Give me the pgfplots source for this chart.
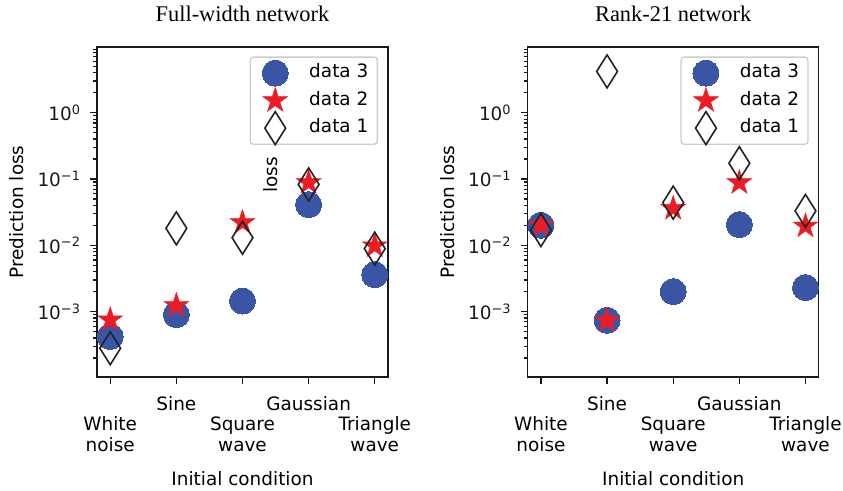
\documentclass[border=0pt]{standalone}
\usepackage{pgfplots}
\pgfplotsset{compat=1.18}
\usepackage{fontspec}
\setmainfont{DejaVu Sans}
\newfontfamily\titlefont{Liberation Serif}
\definecolor{cblue}{HTML}{3A55A4}
\definecolor{cred}{HTML}{ED1C24}
\definecolor{cdark}{HTML}{222222}
\pgfdeclareplotmark{fstar}{%
  \pgfpathmoveto{\pgfpointpolar{90}{\pgfplotmarksize}}%
  \pgfpathlineto{\pgfpointpolar{126}{0.382\pgfplotmarksize}}%
  \pgfpathlineto{\pgfpointpolar{162}{\pgfplotmarksize}}%
  \pgfpathlineto{\pgfpointpolar{198}{0.382\pgfplotmarksize}}%
  \pgfpathlineto{\pgfpointpolar{234}{\pgfplotmarksize}}%
  \pgfpathlineto{\pgfpointpolar{270}{0.382\pgfplotmarksize}}%
  \pgfpathlineto{\pgfpointpolar{306}{\pgfplotmarksize}}%
  \pgfpathlineto{\pgfpointpolar{342}{0.382\pgfplotmarksize}}%
  \pgfpathlineto{\pgfpointpolar{18}{\pgfplotmarksize}}%
  \pgfpathlineto{\pgfpointpolar{54}{0.382\pgfplotmarksize}}%
  \pgfpathclose
  \pgfusepathqfillstroke}
\pgfdeclareplotmark{tdiamond}{%
  \pgfpathmoveto{\pgfpoint{0pt}{\pgfplotmarksize}}%
  \pgfpathlineto{\pgfpoint{0.63\pgfplotmarksize}{0pt}}%
  \pgfpathlineto{\pgfpoint{0pt}{-\pgfplotmarksize}}%
  \pgfpathlineto{\pgfpoint{-0.63\pgfplotmarksize}{0pt}}%
  \pgfpathclose
  \pgfusepathqstroke}
\newcommand{\lbl}{\fontsize{18.5}{21}\selectfont}
\begin{document}
\begin{tikzpicture}
\useasboundingbox (0bp,0bp) rectangle (843bp,491bp);
\begin{axis}[at={(97bp,114bp)}, title={Full-width network},
    ymode=log, scale only axis, width=291bp, height=330bp, anchor=south west,
    xmin=-0.2, xmax=4.2, ymin=1.03e-4, ymax=9.8, clip=false,
    xtick={0,1,2,3,4},
    xticklabels={{\phantom{W}\\White\\noise},{Sine},{\phantom{W}\\Square\\wave},{Gaussian},{\phantom{W}\\Triangle\\wave}},
    ytick={1e-3,1e-2,1e-1,1},
    yticklabels={10\textsuperscript{−3},10\textsuperscript{−2},10\textsuperscript{−1},10\textsuperscript{0}},
    minor ytick={2e-4,3e-4,4e-4,5e-4,6e-4,7e-4,8e-4,9e-4,
                 2e-3,3e-3,4e-3,5e-3,6e-3,7e-3,8e-3,9e-3,
                 2e-2,3e-2,4e-2,5e-2,6e-2,7e-2,8e-2,9e-2,
                 0.2,0.3,0.4,0.5,0.6,0.7,0.8,0.9,2,3,4,5,6,7,8,9},
    tick pos=left, tick align=outside,
    major tick length=7bp, minor tick length=4bp,
    every tick/.style={black!90, line width=1.2bp},
    axis line style={black!90, line width=1.5bp},
    xticklabel style={font=\lbl, align=center, anchor=north, text=black, yshift=-9bp},
    yticklabel style={font=\lbl, text=black!90, xshift=-6bp},
    xlabel={Initial condition}, ylabel={Prediction loss},
    xlabel style={font=\lbl, at={(axis description cs:0.5,-0.3273)}, anchor=base},
    ylabel style={font=\lbl, at={(axis description cs:-0.2509,0.5)}, anchor=base},
    title style={font=\titlefont\fontsize{22.5}{26}\selectfont, at={(axis description cs:0.5,1.0606)}, anchor=base},
    legend style={at={(1,1)}, anchor=north east, xshift=-10bp, yshift=-9.5bp,
      font=\lbl, draw=black!20, line width=1.3bp, rounded corners=3bp, fill=white,
      inner xsep=9bp, inner ysep=7.5bp, row sep=10.5bp, column sep=0bp,
      nodes={inner sep=0bp, text height=13bp, text depth=4bp},
      cells={anchor=west}},
    legend image code/.code={\path[draw=none,fill=none] (-16bp,-8bp) rectangle (34bp,8bp);
      \begin{scope}[overlay]\draw[#1] plot coordinates {(0bp,0bp)};\end{scope}}]
\addplot[only marks, mark=*, mark size=13bp, mark options={fill=cblue, draw=cblue, line width=0pt}] coordinates {(0,4.2e-4) (1,9.0e-4) (2,1.44e-3) (3,4.1e-2) (4,3.6e-3)};
\addlegendentry{data 3}
\addplot[only marks, mark=fstar, mark size=13bp, mark options={fill=cred, draw=cred, line width=0.5bp}] coordinates {(0,7.5e-4) (1,1.23e-3) (2,2.2e-2) (3,8.8e-2) (4,9.8e-3)};
\addlegendentry{data 2}
\addplot[only marks, mark=tdiamond, mark size=16.5bp, mark options={draw=cdark, line width=1.6bp}] coordinates {(0,2.8e-4) (1,1.8e-2) (2,1.3e-2) (3,8.3e-2) (4,8.9e-3)};
\addlegendentry{data 1}
\node[rotate=90, anchor=base, font=\lbl] at (axis description cs:0.6186,0.612) {loss};
\end{axis}
\begin{axis}[at={(527.7bp,114bp)}, title={Rank-21 network},
    ymode=log, scale only axis, width=291bp, height=330bp, anchor=south west,
    xmin=-0.2, xmax=4.2, ymin=1.03e-4, ymax=9.8, clip=false,
    xtick={0,1,2,3,4},
    xticklabels={{\phantom{W}\\White\\noise},{Sine},{\phantom{W}\\Square\\wave},{Gaussian},{\phantom{W}\\Triangle\\wave}},
    ytick={1e-3,1e-2,1e-1,1},
    yticklabels={10\textsuperscript{−3},10\textsuperscript{−2},10\textsuperscript{−1},10\textsuperscript{0}},
    minor ytick={2e-4,3e-4,4e-4,5e-4,6e-4,7e-4,8e-4,9e-4,
                 2e-3,3e-3,4e-3,5e-3,6e-3,7e-3,8e-3,9e-3,
                 2e-2,3e-2,4e-2,5e-2,6e-2,7e-2,8e-2,9e-2,
                 0.2,0.3,0.4,0.5,0.6,0.7,0.8,0.9,2,3,4,5,6,7,8,9},
    tick pos=left, tick align=outside,
    major tick length=7bp, minor tick length=4bp,
    every tick/.style={black!90, line width=1.2bp},
    axis line style={black!90, line width=1.5bp},
    xticklabel style={font=\lbl, align=center, anchor=north, text=black, yshift=-9bp},
    yticklabel style={font=\lbl, text=black!90, xshift=-6bp},
    xlabel={Initial condition}, ylabel={Prediction loss},
    xlabel style={font=\lbl, at={(axis description cs:0.5,-0.3273)}, anchor=base},
    ylabel style={font=\lbl, at={(axis description cs:-0.2509,0.5)}, anchor=base},
    title style={font=\titlefont\fontsize{22.5}{26}\selectfont, at={(axis description cs:0.5,1.0606)}, anchor=base},
    legend style={at={(1,1)}, anchor=north east, xshift=-10bp, yshift=-9.5bp,
      font=\lbl, draw=black!20, line width=1.3bp, rounded corners=3bp, fill=white,
      inner xsep=9bp, inner ysep=7.5bp, row sep=10.5bp, column sep=0bp,
      nodes={inner sep=0bp, text height=13bp, text depth=4bp},
      cells={anchor=west}},
    legend image code/.code={\path[draw=none,fill=none] (-16bp,-8bp) rectangle (34bp,8bp);
      \begin{scope}[overlay]\draw[#1] plot coordinates {(0bp,0bp)};\end{scope}}]
\addplot[only marks, mark=*, mark size=13bp, mark options={fill=cblue, draw=cblue, line width=0pt}] coordinates {(0,2.0e-2) (1,7.4e-4) (2,2.0e-3) (3,2.05e-2) (4,2.3e-3)};
\addlegendentry{data 3}
\addplot[only marks, mark=fstar, mark size=13bp, mark options={fill=cred, draw=cred, line width=0.5bp}] coordinates {(0,2.0e-2) (1,7.3e-4) (2,3.6e-2) (3,8.8e-2) (4,1.95e-2)};
\addlegendentry{data 2}
\addplot[only marks, mark=tdiamond, mark size=16.5bp, mark options={draw=cdark, line width=1.6bp}] coordinates {(0,1.7e-2) (1,4.2) (2,4.4e-2) (3,0.173) (4,3.3e-2)};
\addlegendentry{data 1}
\end{axis}
\end{tikzpicture}
\end{document}
